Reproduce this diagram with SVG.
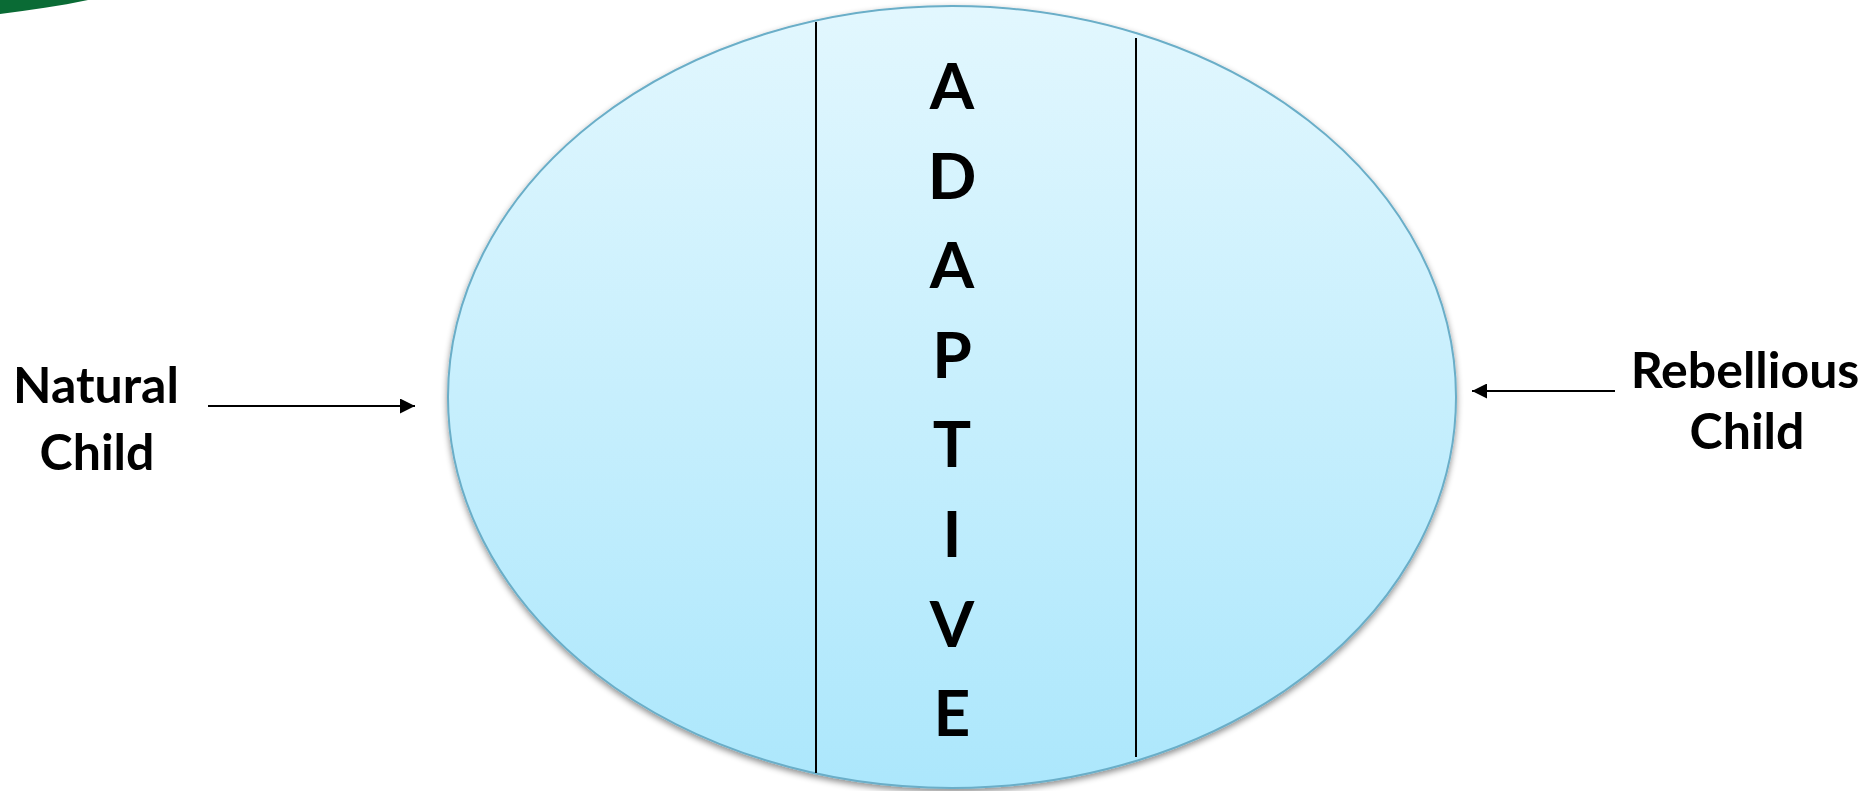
<svg xmlns="http://www.w3.org/2000/svg" width="1874" height="791" viewBox="0 0 1874 791">
<style>
.lbl{font-family:Lato,"Open Sans","Liberation Sans",sans-serif;font-weight:bold;fill:#000;text-anchor:middle}
.big{font-size:64px}
.conn{stroke:#000;stroke-width:2;fill:none}
.div{stroke:#000;stroke-width:2}
</style>
<defs>
<linearGradient id="g" x1="0" y1="0" x2="0" y2="1">
<stop offset="0" stop-color="#e2f7fe"/>
<stop offset="1" stop-color="#ace7fc"/>
</linearGradient>
<filter id="sh" x="-5%" y="-5%" width="110%" height="115%">
<feDropShadow dx="0" dy="3" stdDeviation="3" flood-color="#000" flood-opacity="0.45"/>
</filter>
<marker id="ah" viewBox="0 0 10 10" refX="10" refY="5" markerWidth="7.5" markerHeight="7.5" markerUnits="strokeWidth" orient="auto">
<path d="M0,0 L10,5 L0,10 z" fill="#000"/>
</marker>
</defs>
<rect width="1874" height="791" fill="#fff"/>
<path d="M0,0 L88,0 C60,6 30,10 0,14 z" fill="#0a6b35"/>
<g id="adaptive">
<ellipse cx="952" cy="397" rx="504" ry="391" fill="url(#g)" stroke="#6aaec8" stroke-width="2" filter="url(#sh)"/>
<line class="div" x1="816" y1="22" x2="816" y2="773"/>
<line class="div" x1="1136" y1="38" x2="1136" y2="757"/>
<text class="lbl big" x="952" y="109">A</text>
<text class="lbl big" x="952" y="199">D</text>
<text class="lbl big" x="952" y="288">A</text>
<text class="lbl big" x="952" y="378">P</text>
<text class="lbl big" x="952" y="467">T</text>
<text class="lbl big" x="952" y="557">I</text>
<text class="lbl big" x="952" y="647">V</text>
<text class="lbl big" x="952" y="736">E</text>
</g>
<g id="natural-child">
<text class="lbl" x="96" y="403" font-size="50">Natural</text>
<text class="lbl" x="97" y="470" font-size="50">Child</text>
</g>
<g id="rebellious-child">
<text class="lbl" x="1745" y="388" font-size="50">Rebellious</text>
<text class="lbl" x="1747" y="449" font-size="50">Child</text>
</g>
<g id="connectors">
<line class="conn" x1="208" y1="406" x2="415" y2="406" marker-end="url(#ah)"/>
<line class="conn" x1="1615" y1="391" x2="1472" y2="391" marker-end="url(#ah)"/>
</g>
</svg>
